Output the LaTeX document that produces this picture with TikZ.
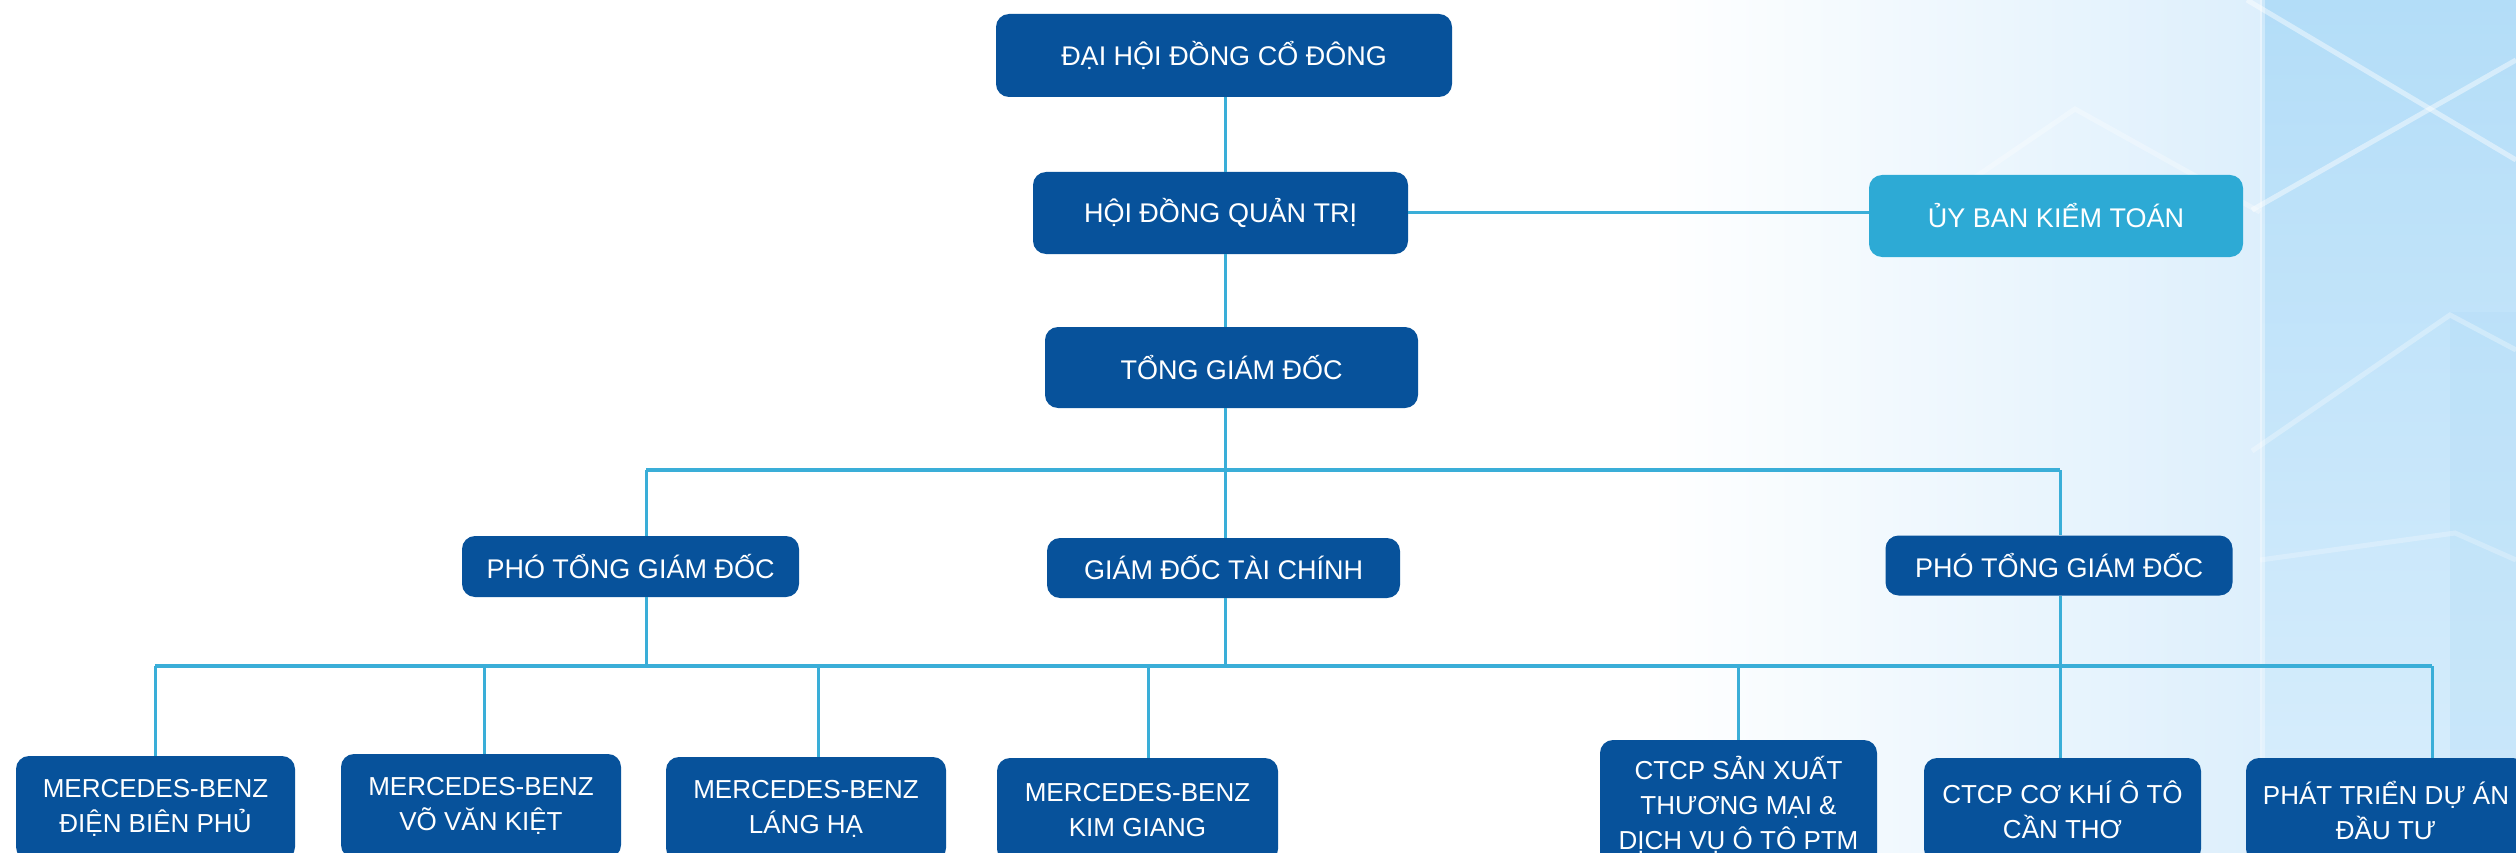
\documentclass[tikz,border=0pt]{standalone}
\usepackage{fontspec}
\setmainfont{Liberation Sans}
\definecolor{dblue}{HTML}{07529B}
\definecolor{lblue}{HTML}{3AAED8}
\definecolor{ublue}{HTML}{2DAAD5}
\definecolor{bgblue}{HTML}{DDEFFC}
\definecolor{bgpanel}{HTML}{C9E7FB}
\definecolor{bgtop}{HTML}{B3DDF8}
\begin{document}
\begin{tikzpicture}[x=1pt,y=-1pt,
  box/.style={fill=dblue, rounded corners=13pt, text=white, align=center, inner sep=0pt,
    font=\fontsize{27}{35}\selectfont},
  lowbox/.style={box, font=\fontsize{26}{35}\selectfont},
  conn/.style={draw=lblue, line width=3pt},
  bus/.style={draw=lblue, line width=3.5pt},
  bgline/.style={draw=white, line width=5pt, opacity=0.45}]
\useasboundingbox (0,0) rectangle (2516,853);
\clip (0,0) rectangle (2516,853);
% background
\fill[white] (0,0) rectangle (2516,853);
\shade[left color=white, right color=bgblue, shading angle=90] (1650,0) rectangle (2262,853);
\shade[top color=bgtop, bottom color=bgpanel!70!white] (2262,0) rectangle (2516,853);
\fill[bgtop, opacity=0.35] (2450,312) rectangle (2516,853);
\draw[bgline] (2247,0) -- (2516,160);
\draw[bgline] (2252,210) -- (2516,60);
\draw[bgline, opacity=0.3] (1971,180) -- (2075,109) -- (2260,212);
\draw[bgline, opacity=0.3] (2252,451) -- (2450,315) -- (2516,350);
\draw[bgline, opacity=0.25] (2260,560) -- (2455,533) -- (2516,560);
\draw[bgline, opacity=0.35] (2262,0) -- (2262,853);
% nodes
\node[box, minimum width=456pt, minimum height=83pt] (dh) at (1224,55.5) {ĐẠI HỘI ĐỒNG CỔ ĐÔNG};
\node[box, minimum width=375pt, minimum height=82pt] (hd) at (1220.5,213) {HỘI ĐỒNG QUẢN TRỊ};
\node[box, fill=ublue, minimum width=374pt, minimum height=82pt] (ub) at (2056,216) {ỦY BAN KIỂM TOÁN};
\node[box, minimum width=373pt, minimum height=81pt] (tg) at (1231.5,367.5) {TỔNG GIÁM ĐỐC};
\node[box, minimum width=337pt, minimum height=61pt] (pl) at (630.5,566.5) {PHÓ TỔNG GIÁM ĐỐC};
\node[box, minimum width=353pt, minimum height=60pt] (gd) at (1223.5,568) {GIÁM ĐỐC TÀI CHÍNH};
\node[box, minimum width=347pt, minimum height=60pt] (pr) at (2059,565.5) {PHÓ TỔNG GIÁM ĐỐC};
\node[lowbox, minimum width=279pt, minimum height=104pt] (b1) at (155.5,808) {MERCEDES-BENZ\\ĐIỆN BIÊN PHỦ};
\node[lowbox, minimum width=280pt, minimum height=104pt] (b2) at (481,806) {MERCEDES-BENZ\\VÕ VĂN KIỆT};
\node[lowbox, minimum width=280pt, minimum height=104pt] (b3) at (806,809) {MERCEDES-BENZ\\LÁNG HẠ};
\node[lowbox, minimum width=281pt, minimum height=104pt] (b4) at (1137.5,810) {MERCEDES-BENZ\\KIM GIANG};
\node[lowbox, minimum width=277pt, minimum height=130pt] (b5) at (1738.5,805) {CTCP SẢN XUẤT\\THƯƠNG MẠI \&\\DỊCH VỤ Ô TÔ PTM};
\node[lowbox, minimum width=277pt, minimum height=104pt] (b6) at (2062.5,810) {CTCP CƠ KHÍ Ô TÔ\\CẦN THƠ};
\node[lowbox, minimum width=280pt, minimum height=104pt] (b7) at (2386,810) {PHÁT TRIỂN DỰ ÁN\\ĐẦU TƯ};
% bus coordinates
\coordinate (u1) at (646,470);
\coordinate (u2) at (1225,470);
\coordinate (u3) at (2060,470);
\coordinate (k1) at (155,666);
\coordinate (k2) at (484,666);
\coordinate (k3) at (646,666);
\coordinate (k4) at (818,666);
\coordinate (k5) at (1148,666);
\coordinate (k6) at (1225,666);
\coordinate (k7) at (1738,666);
\coordinate (k8) at (2060,666);
\coordinate (k9) at (2432,666);
% connectors
\draw[conn] (dh.south -| 1225,0) -- (hd.north -| 1225,0);
\draw[conn] (hd.east) -- (ub.west |- hd.east);
\draw[conn] (hd.south -| 1225,0) -- (tg.north -| 1225,0);
\draw[conn] (tg.south -| u2) -- (u2);
\draw[bus] (u1) -- (u3);
\draw[conn] (u1) -- (pl.north -| u1);
\draw[conn] (u2) -- (gd.north -| u2);
\draw[conn] (u3) -- (pr.north -| u3);
\draw[bus] (k1) -- (k9);
\draw[conn] (pl.south -| k3) -- (k3);
\draw[conn] (gd.south -| k6) -- (k6);
\draw[conn] (pr.south -| k8) -- (k8);
\draw[conn] (k1) -- (b1.north -| k1);
\draw[conn] (k2) -- (b2.north -| k2);
\draw[conn] (k4) -- (b3.north -| k4);
\draw[conn] (k5) -- (b4.north -| k5);
\draw[conn] (k7) -- (b5.north -| k7);
\draw[conn] (k8) -- (b6.north -| k8);
\draw[conn] (k9) -- (b7.north -| k9);
\end{tikzpicture}
\end{document}
